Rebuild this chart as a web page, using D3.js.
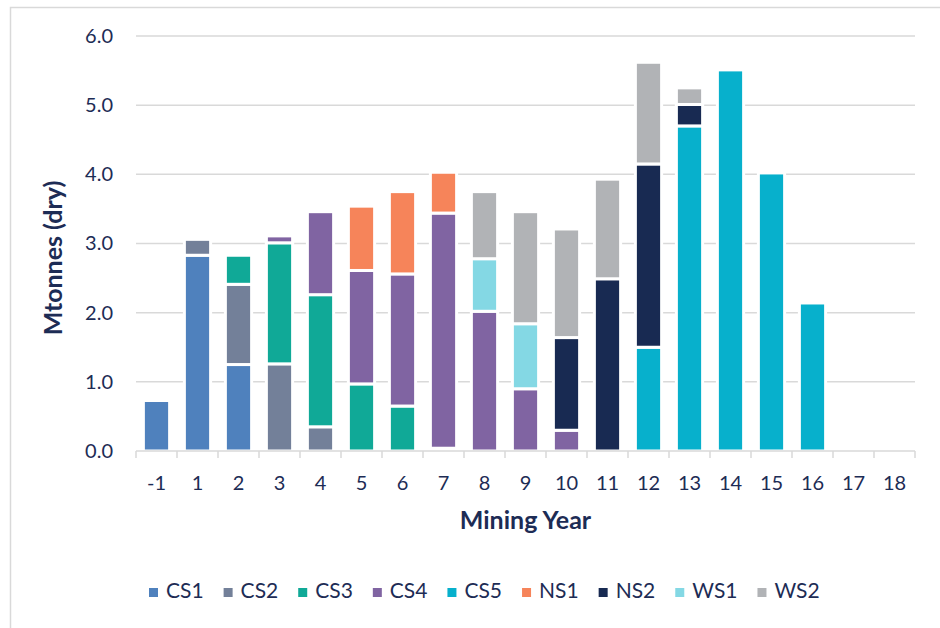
<!DOCTYPE html>
<html>
<head>
<meta charset="utf-8">
<script src="https://cdn.jsdelivr.net/npm/d3@7"></script>
<style>
  body { margin: 0; background: #fff; }
  svg { display: block; font-family: Lato, "Open Sans", sans-serif; }
</style>
</head>
<body>
<div id="chart"></div>
<script>
// Mining years on the x axis.
var years = ["-1", "1", "2", "3", "4", "5", "6", "7", "8", "9", "10",
             "11", "12", "13", "14", "15", "16", "17", "18"];

// Tonnage per pit stage, Mtonnes (dry), one value per mining year.
var cs1 = [0.73, 2.83, 1.25, 0, 0, 0, 0, 0, 0, 0, 0, 0, 0, 0, 0, 0, 0, 0, 0];
var cs2 = [0, 0.23, 1.16, 1.26, 0.35, 0, 0, 0, 0, 0, 0, 0, 0, 0, 0, 0, 0, 0, 0];
var cs3 = [0, 0, 0.42, 1.75, 1.91, 0.97, 0.65, 0.04, 0, 0, 0, 0, 0, 0, 0, 0, 0, 0, 0];
var cs4 = [0, 0, 0, 0.10, 1.20, 1.64, 1.91, 3.40, 2.02, 0.90, 0.30, 0, 0, 0, 0, 0, 0, 0, 0];
var cs5 = [0, 0, 0, 0, 0, 0, 0, 0, 0, 0, 0, 0, 1.50, 4.70, 5.51, 4.02, 2.14, 0, 0];
var ns1 = [0, 0, 0, 0, 0, 0.93, 1.19, 0.59, 0, 0, 0, 0, 0, 0, 0, 0, 0, 0, 0];
var ns2 = [0, 0, 0, 0, 0, 0, 0, 0, 0, 0, 1.34, 2.49, 2.65, 0.31, 0, 0, 0, 0, 0];
var ws1 = [0, 0, 0, 0, 0, 0, 0, 0, 0.76, 0.94, 0, 0, 0, 0, 0, 0, 0, 0, 0];
var ws2 = [0, 0, 0, 0, 0, 0, 0, 0, 0.97, 1.62, 1.57, 1.44, 1.47, 0.24, 0, 0, 0, 0, 0];

var seriesNames = ["CS1", "CS2", "CS3", "CS4", "CS5", "NS1", "NS2", "WS1", "WS2"];
var seriesValues = [cs1, cs2, cs3, cs4, cs5, ns1, ns2, ws1, ws2];
var seriesColors = ["#4f81bd", "#738099", "#10a997", "#8064a2", "#07b0cc",
                    "#f6845a", "#182a52", "#84d8e4", "#b1b3b6"];

var yTicks = [0, 1, 2, 3, 4, 5, 6];

// Layout. (Avoid the name `top`: it is a read-only global in browsers.)
var width = 940,
    height = 628,
    plotLeft = 136,
    plotRight = 915,
    plotTop = 36,
    plotBottom = 451,
    textColor = "#1d2c55",
    gridColor = "#d9d9d9";

// Build rows for d3.stack from the arrays above.
var rows = years.map(function (yr, i) {
  var row = { year: yr };
  seriesNames.forEach(function (name, k) { row[name] = seriesValues[k][i]; });
  return row;
});

var stacked = d3.stack().keys(seriesNames)(rows);

var x = d3.scaleBand()
  .domain(years)
  .range([plotLeft, plotRight])
  .paddingInner(0.36)
  .paddingOuter(0.18);

var y = d3.scaleLinear()
  .domain([0, 6])
  .range([plotBottom, plotTop]);

var color = d3.scaleOrdinal().domain(seriesNames).range(seriesColors);

var svg = d3.select("#chart").append("svg")
  .attr("width", width)
  .attr("height", height);

// Chart frame (only top and left edges fall inside the picture).
svg.append("path")
  .attr("d", "M10.5," + height + "V7.5H" + width)
  .attr("fill", "none")
  .attr("stroke", gridColor)
  .attr("stroke-width", 1.5);

// Gridlines.
svg.append("g")
  .selectAll("line")
  .data(yTicks.slice(1))
  .join("line")
    .attr("x1", plotLeft)
    .attr("x2", plotRight)
    .attr("y1", function (d) { return y(d); })
    .attr("y2", function (d) { return y(d); })
    .attr("stroke", gridColor)
    .attr("stroke-width", 1.5);

// Y axis labels.
var yAxis = svg.append("g")
  .attr("transform", "translate(" + plotLeft + ",0)")
  .call(d3.axisLeft(y).tickValues(yTicks).tickFormat(d3.format(".1f")).tickSize(0).tickPadding(23));
yAxis.select(".domain").remove();
yAxis.selectAll("text")
  .attr("fill", textColor)
  .style("font-size", "20px")
  .style("font-family", "Lato, sans-serif");

// Bars.
svg.append("g")
  .selectAll("g")
  .data(stacked)
  .join("g")
    .attr("fill", function (d) { return color(d.key); })
  .selectAll("rect")
  .data(function (d) { return d.filter(function (p) { return p[1] - p[0] > 0; }); })
  .join("rect")
    .attr("x", function (d) { return x(d.data.year); })
    .attr("width", x.bandwidth())
    .attr("y", function (d) { return y(d[1]); })
    .attr("height", function (d) { return y(d[0]) - y(d[1]); })
    .attr("stroke", "#fff")
    .attr("stroke-width", 3);

// X axis: baseline with ticks between categories.
var boundaries = d3.range(years.length + 1).map(function (i) {
  return plotLeft + i * (plotRight - plotLeft) / years.length;
});
var xAxis = svg.append("g");
xAxis.append("line")
  .attr("x1", plotLeft).attr("x2", plotRight)
  .attr("y1", plotBottom).attr("y2", plotBottom)
  .attr("stroke", gridColor)
  .attr("stroke-width", 1.5);
xAxis.selectAll("line.tick")
  .data(boundaries)
  .join("line")
    .attr("class", "tick")
    .attr("x1", function (d) { return d; })
    .attr("x2", function (d) { return d; })
    .attr("y1", plotBottom)
    .attr("y2", plotBottom + 7)
    .attr("stroke", gridColor)
    .attr("stroke-width", 1.5);
xAxis.selectAll("text")
  .data(years)
  .join("text")
    .attr("x", function (d) { return x(d) + x.bandwidth() / 2; })
    .attr("y", 490)
    .attr("text-anchor", "middle")
    .attr("fill", textColor)
    .style("font-size", "20px")
    .text(function (d) { return d; });

// Axis titles.
svg.append("text")
  .attr("x", (plotLeft + plotRight) / 2)
  .attr("y", 529)
  .attr("text-anchor", "middle")
  .attr("fill", textColor)
  .style("font-size", "25px")
  .style("font-weight", "bold")
  .text("Mining Year");

svg.append("text")
  .attr("transform", "translate(62,258) rotate(-90)")
  .attr("text-anchor", "middle")
  .attr("fill", textColor)
  .style("font-size", "25px")
  .style("font-weight", "bold")
  .text("Mtonnes (dry)");

// Legend.
var legend = svg.append("g");
var lx = 149;
seriesNames.forEach(function (name) {
  var item = legend.append("g").attr("transform", "translate(" + lx + ",0)");
  item.append("rect")
    .attr("x", 0).attr("y", 588)
    .attr("width", 9).attr("height", 9)
    .attr("fill", color(name));
  var t = item.append("text")
    .attr("x", 17).attr("y", 598)
    .attr("fill", textColor)
    .style("font-size", "21px")
    .text(name);
  lx += 17 + t.node().getComputedTextLength() + 20;
});
</script>
</body>
</html>
